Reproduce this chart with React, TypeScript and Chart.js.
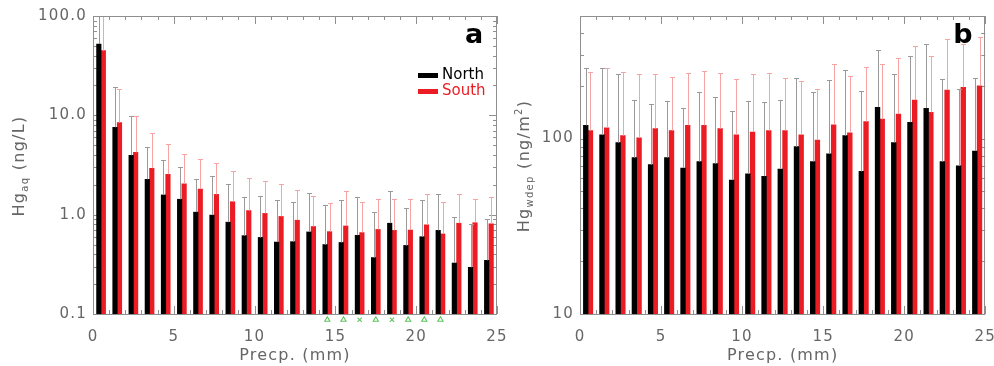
import React, { useEffect, useRef } from 'react';
import { Chart, registerables } from 'chart.js';

Chart.register(...registerables);

// ---------- data ----------
const binCenters = [0.5, 1.5, 2.5, 3.5, 4.5, 5.5, 6.5, 7.5, 8.5, 9.5, 10.5, 11.5, 12.5, 13.5, 14.5, 15.5, 16.5, 17.5, 18.5, 19.5, 20.5, 21.5, 22.5, 23.5, 24.5];

// Panel a: Hg_aq (ng/L), bar value and upper end of whisker
const aqNorth = [52.3, 7.57, 3.96, 2.27, 1.58, 1.43, 1.06, 0.99, 0.84, 0.615, 0.59, 0.53, 0.535, 0.67, 0.5, 0.525, 0.62, 0.37, 0.82, 0.49, 0.6, 0.695, 0.326, 0.295, 0.347];
const aqNorthUpper = [150, 19.1, 9.85, 4.84, 3.55, 3.0, 2.27, 2.43, 2.05, 1.49, 1.55, 1.41, 1.35, 1.65, 1.26, 1.39, 1.49, 1.06, 1.72, 1.17, 1.39, 1.61, 0.955, 0.81, 0.9];
const aqSouth = [44.8, 8.44, 4.24, 2.93, 2.55, 2.04, 1.81, 1.6, 1.35, 1.1, 1.03, 0.96, 0.88, 0.76, 0.675, 0.77, 0.66, 0.71, 0.695, 0.7, 0.79, 0.64, 0.82, 0.83, 0.81];
const aqSouthUpper = [160, 18.4, 9.85, 6.59, 5.15, 4.05, 3.63, 3.29, 2.77, 2.34, 2.18, 2.04, 1.77, 1.55, 1.31, 1.72, 1.35, 1.45, 1.45, 1.45, 1.61, 1.35, 1.61, 1.45, 1.49];

// Panel b: Hg_wdep (ng/m2)
const wdepNorth = [119, 105, 95, 78, 71, 78, 68, 74, 72, 58, 63, 61, 67, 90, 74, 82, 104, 65, 151, 95, 124, 149, 74, 70, 85];
const wdepNorthUpper = [251, 251, 233, 167, 157, 164, 149, 185, 173, 143, 164, 161, 167, 223, 185, 216, 247, 187, 318, 233, 294, 346, 220, 191, 223];
const wdepSouth = [111, 115, 104, 101, 114, 111, 119, 119, 114, 105, 109, 111, 111, 105, 98, 120, 108, 125, 129, 138, 166, 141, 189, 196, 200];
const wdepSouthUpper = [241, 251, 241, 233, 233, 224, 237, 243, 238, 220, 233, 237, 222, 212, 191, 268, 227, 255, 268, 288, 338, 294, 371, 348, 378];

// significance markers under panel a
const sigBins = [14.5, 15.5, 16.5, 17.5, 18.5, 19.5, 20.5, 21.5];
const sigStyles = ['triangle', 'triangle', 'crossRot', 'triangle', 'crossRot', 'triangle', 'triangle', 'triangle'];

const yTicksA = [0.1, 1, 10, 100];
const yLabelsA = ['0.1', '1.0', '10.0', '100.0'];
const yTicksB = [10, 100];
const yLabelsB = ['10', '100'];

const seriesNames = ['North', 'South'];
const xTitle = 'Precp. (mm)';

// ---------- styles ----------
const FONT = 'DejaVu Sans';
const TEXT = '#666666';
const AXIS = '#8f8f8f';
const RED = '#ec1c24';
const BLACK_WHISKER = '#9a9a9a';
const RED_WHISKER = '#f5a3a3';
const GREEN = '#5fc45f';

type Part = { text: string; size: number; dy: number };

function drawRich(ctx: CanvasRenderingContext2D, parts: Part[], cx: number, cy: number) {
  ctx.save();
  (ctx as any).letterSpacing = '1.3px';
  ctx.translate(cx, cy);
  ctx.rotate(-Math.PI / 2);
  ctx.fillStyle = TEXT;
  ctx.textBaseline = 'middle';
  ctx.textAlign = 'left';
  let w = 0;
  for (const p of parts) {
    ctx.font = `${p.size}px "${FONT}"`;
    w += ctx.measureText(p.text).width;
  }
  let x = -w / 2;
  for (const p of parts) {
    ctx.font = `${p.size}px "${FONT}"`;
    ctx.fillText(p.text, x, p.dy);
    x += ctx.measureText(p.text).width;
  }
  ctx.restore();
}

const decorPlugin = {
  id: 'decor',
  _saved: null as number | null,
  beforeUpdate(chart: any) {
    chart.ctx.letterSpacing = '1.2px';
  },
  beforeDraw(chart: any) {
    chart.ctx.letterSpacing = '1.2px';
  },
  beforeDatasetsDraw(chart: any) {
    const { ctx, chartArea: a, scales } = chart;
    const x = scales.x;
    const y = scales.y;
    ctx.save();
    ctx.strokeStyle = AXIS;
    ctx.lineWidth = 1;
    ctx.beginPath();
    for (let v = x.min; v <= x.max; v++) {
      const px = Math.round(x.getPixelForValue(v)) + 0.5;
      const len = v % 5 === 0 ? 8 : 4;
      ctx.moveTo(px, a.bottom);
      ctx.lineTo(px, a.bottom - len);
      ctx.moveTo(px, a.top);
      ctx.lineTo(px, a.top + len);
    }
    const lo = Math.floor(Math.log10(y.min));
    const hi = Math.ceil(Math.log10(y.max));
    for (let e = lo; e <= hi; e++) {
      for (let m = 1; m <= 9; m++) {
        const v = m * Math.pow(10, e);
        if (v < y.min * 0.999 || v > y.max * 1.001) continue;
        const py = Math.round(y.getPixelForValue(v)) + 0.5;
        const len = m === 1 ? 8 : 4;
        ctx.moveTo(a.left, py);
        ctx.lineTo(a.left + len, py);
        ctx.moveTo(a.right, py);
        ctx.lineTo(a.right - len, py);
      }
    }
    ctx.stroke();
    ctx.restore();
  },
  beforeDatasetDraw(chart: any, args: any) {
    const ds = chart.data.datasets[args.index];
    if (ds.type === 'scatter') {
      (decorPlugin as any)._saved = chart.chartArea.bottom;
      chart.chartArea.bottom += 14;
    }
  },
  afterDatasetDraw(chart: any, args: any) {
    const ds = chart.data.datasets[args.index];
    if (ds.type === 'scatter' && (decorPlugin as any)._saved != null) {
      chart.chartArea.bottom = (decorPlugin as any)._saved;
      (decorPlugin as any)._saved = null;
    }
  },
  afterDatasetsDraw(chart: any) {
    const { ctx, chartArea: a, scales } = chart;
    const y = scales.y;
    ctx.save();
    ctx.beginPath();
    ctx.rect(a.left, a.top, a.right - a.left, a.bottom - a.top);
    ctx.clip();
    chart.data.datasets.forEach((ds: any, di: number) => {
      if (!ds.upper) return;
      const meta = chart.getDatasetMeta(di);
      ctx.strokeStyle = ds.whiskerColor;
      ctx.lineWidth = 1;
      meta.data.forEach((el: any, j: number) => {
        const px = Math.round(el.x) + 0.5;
        const yEnd = Math.round(y.getPixelForValue(ds.upper[j])) + 0.5;
        ctx.beginPath();
        ctx.moveTo(px, el.y);
        ctx.lineTo(px, yEnd);
        ctx.moveTo(px - 2.5, yEnd);
        ctx.lineTo(px + 2.5, yEnd);
        ctx.stroke();
      });
    });
    ctx.restore();
    // frame
    ctx.save();
    ctx.strokeStyle = AXIS;
    ctx.lineWidth = 1;
    ctx.strokeRect(Math.round(a.left) + 0.5, Math.round(a.top) + 0.5, Math.round(a.right - a.left) - 1, Math.round(a.bottom - a.top));
    ctx.restore();
  },
  afterDraw(chart: any, _args: any, opts: any) {
    const { ctx, chartArea: a } = chart;
    drawRich(ctx, opts.yTitle, a.left - opts.yTitleGap, (a.top + a.bottom) / 2 + 1);
    // panel letter
    ctx.save();
    (ctx as any).letterSpacing = '0px';
    ctx.fillStyle = '#000';
    ctx.font = `bold 27px "${FONT}"`;
    ctx.textAlign = 'left';
    ctx.textBaseline = 'alphabetic';
    ctx.fillText(opts.letter, a.right - 32, a.top + 27);
    if (opts.legend) {
      const colors = ['#000', RED];
      seriesNames.forEach((name, i) => {
        const yy = a.top + 59 + i * 16;
        ctx.fillStyle = colors[i];
        ctx.fillRect(a.right - 79, yy - 2, 20, 5);
        ctx.font = `15px "${FONT}"`;
        ctx.textBaseline = 'middle';
        ctx.fillText(name, a.right - 55, yy);
      });
    }
    ctx.restore();
  },
};

type PanelSpec = {
  north: number[];
  northUpper: number[];
  south: number[];
  southUpper: number[];
  yMin: number;
  yMax: number;
  yTicks: number[];
  yLabels: string[];
  yAxisWidth: number;
  padRight: number;
  barThickness: number;
  yTitle: Part[];
  yTitleGap: number;
  letter: string;
  legend: boolean;
  markers: boolean;
};

function buildConfig(p: PanelSpec): any {
  const datasets: any[] = [
    {
      label: seriesNames[0],
      data: p.north,
      upper: p.northUpper,
      whiskerColor: BLACK_WHISKER,
      backgroundColor: '#000000',
      borderWidth: 0,
      barThickness: p.barThickness,
    },
    {
      label: seriesNames[1],
      data: p.south,
      upper: p.southUpper,
      whiskerColor: RED_WHISKER,
      backgroundColor: RED,
      borderWidth: 0,
      barThickness: p.barThickness,
    },
  ];
  if (p.markers) {
    datasets.push({
      type: 'scatter',
      label: 'sig',
      data: sigBins.map((b) => ({ x: b, y: 0.0875 })),
      pointStyle: sigStyles,
      pointRadius: 3,
      pointBorderWidth: 1.1,
      pointBorderColor: GREEN,
      pointBackgroundColor: 'rgba(0,0,0,0)',
      clip: false,
    });
  }
  return {
    type: 'bar',
    data: { labels: binCenters, datasets },
    plugins: [decorPlugin],
    options: {
      responsive: false,
      animation: false,
      devicePixelRatio: 1,
      events: [],
      layout: { padding: { left: 0, top: 16, right: p.padRight, bottom: 0 } },
      plugins: {
        legend: { display: false },
        tooltip: { enabled: false },
        decor: { yTitle: p.yTitle, yTitleGap: p.yTitleGap, letter: p.letter, legend: p.legend },
      },
      scales: {
        x: {
          type: 'linear',
          min: 0,
          max: 25,
          offset: false,
          grid: { display: false, drawTicks: false },
          border: { display: false },
          ticks: {
            stepSize: 5,
            padding: 14,
            color: TEXT,
            font: { size: 15, family: FONT },
            maxRotation: 0,
            autoSkip: false,
          },
          title: {
            display: true,
            text: xTitle,
            color: TEXT,
            font: { size: 16, family: FONT },
            padding: { top: 0, bottom: 1 },
          },
          afterFit: (s: any) => {
            s.height = 52;
          },
        },
        y: {
          type: 'logarithmic',
          min: p.yMin,
          max: p.yMax,
          grid: { display: false, drawTicks: false },
          border: { display: false },
          ticks: {
            padding: 6,
            color: TEXT,
            font: { size: 15, family: FONT },
            autoSkip: false,
            callback: (_v: any, i: number) => p.yLabels[i],
          },
          afterBuildTicks: (s: any) => {
            s.ticks = p.yTicks.map((v) => ({ value: v }));
          },
          afterFit: (s: any) => {
            s.width = p.yAxisWidth;
          },
        },
      },
    },
  };
}

const panelA: PanelSpec = {
  north: aqNorth,
  northUpper: aqNorthUpper,
  south: aqSouth,
  southUpper: aqSouthUpper,
  yMin: 0.1,
  yMax: 100,
  yTicks: yTicksA,
  yLabels: yLabelsA,
  yAxisWidth: 93,
  padRight: 497,
  barThickness: 4.5,
  yTitle: [
    { text: 'Hg', size: 16, dy: 0 },
    { text: 'aq', size: 10, dy: 5 },
    { text: ' (ng/L)', size: 16, dy: 0 },
  ],
  yTitleGap: 73,
  letter: 'a',
  legend: true,
  markers: true,
};

const panelB: PanelSpec = {
  north: wdepNorth,
  northUpper: wdepNorthUpper,
  south: wdepSouth,
  southUpper: wdepSouthUpper,
  yMin: 10,
  yMax: 500,
  yTicks: yTicksB,
  yLabels: yLabelsB,
  yAxisWidth: 580,
  padRight: 23,
  barThickness: 4.7,
  yTitle: [
    { text: 'Hg', size: 16, dy: 0 },
    { text: 'wdep', size: 10, dy: 5 },
    { text: ' (ng/m', size: 16, dy: 0 },
    { text: '2', size: 10, dy: -6 },
    { text: ')', size: 16, dy: 0 },
  ],
  yTitleGap: 55,
  letter: 'b',
  legend: false,
  markers: false,
};

function Panel({ spec, width }: { spec: PanelSpec; width: number }) {
  const ref = useRef<HTMLCanvasElement>(null);
  useEffect(() => {
    const chart = new Chart(ref.current as HTMLCanvasElement, buildConfig(spec));
    return () => chart.destroy();
  }, [spec]);
  return (
    <canvas
      ref={ref}
      width={width}
      height={366}
      style={{ position: 'absolute', left: 0, top: 0, width, height: 366 }}
    />
  );
}

export default function App() {
  return (
    <div
      style={{
        position: 'absolute',
        left: 0,
        top: 0,
        width: 994,
        height: 366,
        overflow: 'hidden',
        background: '#ffffff',
      }}
    >
      <Panel spec={panelA} width={994} />
      <Panel spec={panelB} width={1010} />
    </div>
  );
}
